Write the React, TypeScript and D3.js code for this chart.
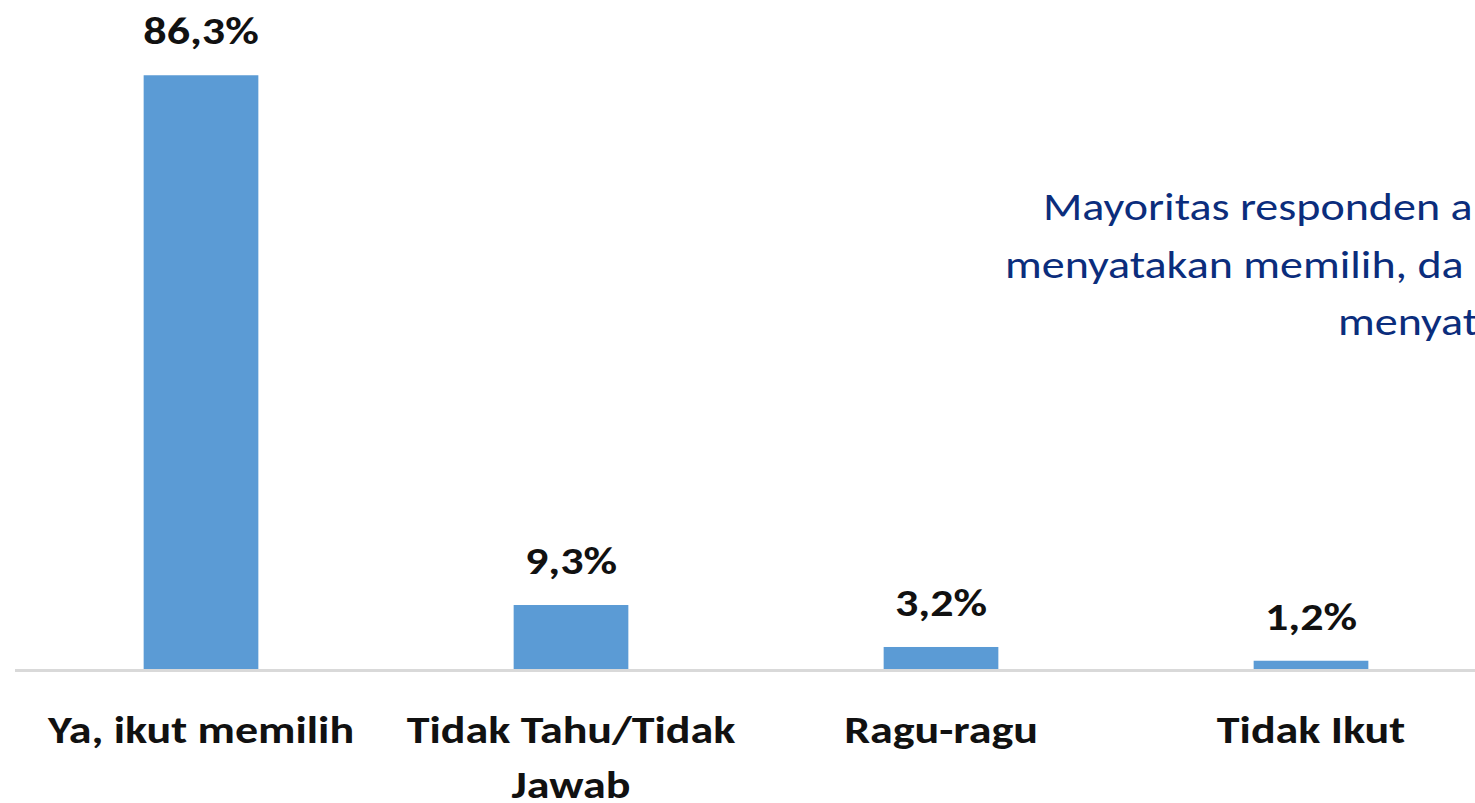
import React from 'react';
import {scaleBand, scaleLinear} from 'd3';

const categories = ['Ya, ikut memilih', 'Tidak Tahu/Tidak Jawab', 'Ragu-ragu', 'Tidak Ikut'];
const categoryLines = [['Ya, ikut memilih'], ['Tidak Tahu/Tidak', 'Jawab'], ['Ragu-ragu'], ['Tidak Ikut']];
const values = [86.3, 9.3, 3.2, 1.2];
const valueLabels = ['86,3%', '9,3%', '3,2%', '1,2%'];
const noteLines = ['Mayoritas responden a', 'menyatakan memilih, da', 'menyat'];
const noteX = [1043, 1005, 1338];

const font = 'Carlito, Lato, "Open Sans", sans-serif';
// reference glyphs are wider than Lato at the same height
const sx = 1.18;

const App = () => {
  const width = 1475;
  const height = 803;
  const baseY = 669;

  const xScale = scaleBand()
    .domain(categories)
    .range([16, 1496])
    .paddingInner(0.69)
    .paddingOuter(0.345);

  const yScale = scaleLinear().domain([0, 100]).range([baseY, baseY - 688]);

  return (
    <svg width={width} height={height} style={{position: 'absolute', left: 0, top: 0, background: '#fff'}}>
      <line x1={15} x2={width} y1={baseY + 1.5} y2={baseY + 1.5} stroke="#d9d9d9" strokeWidth={3} />

      {categories.map((c, i) => {
        const x = xScale(c);
        const y = yScale(values[i]);
        const cx = x + xScale.bandwidth() / 2;
        return (
          <g key={c}>
            <rect x={x} y={y} width={xScale.bandwidth()} height={baseY - y} fill="#5b9bd5" />
            <text transform={`translate(${cx},${y - 31}) scale(${sx},1)`} textAnchor="middle" fontFamily={font} fontWeight="bold" fontSize={39} fill="#111">
              {valueLabels[i]}
            </text>
            {categoryLines[i].map((t, j) => (
              <text key={t} transform={`translate(${cx},${743 + j * 55}) scale(${sx},1)`} textAnchor="middle" fontFamily={font} fontWeight="bold" fontSize={39} fill="#111">
                {t}
              </text>
            ))}
          </g>
        );
      })}

      {noteLines.map((t, i) => (
        <text key={t} transform={`translate(${noteX[i]},${220 + i * 57.5}) scale(${sx},1)`} fontFamily={font} fontSize={39} fill="#0b2d7c">
          {t}
        </text>
      ))}
    </svg>
  );
};

export default App;
